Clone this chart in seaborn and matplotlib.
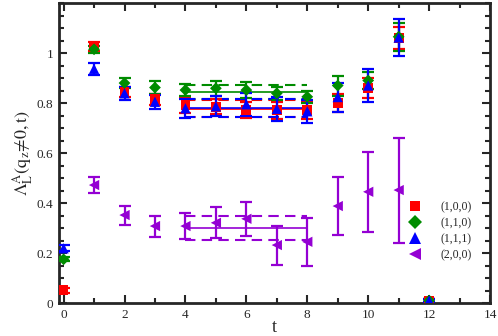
import numpy as np
import pandas as pd
import matplotlib
matplotlib.use("Agg")
import matplotlib.pyplot as plt
import seaborn as sns
from matplotlib.ticker import MultipleLocator

t = [0, 1, 2, 3, 4, 5, 6, 7, 8, 9, 10, 11, 12]
labels = ["(1,0,0)", "(1,1,0)", "(1,1,1)", "(2,0,0)"]

val_100 = [0.052, 1.025, 0.845, 0.815, 0.792, 0.785, 0.772, 0.772, 0.772, 0.800, 0.860, 1.060, 0.010]
err_100 = [0.010, 0.018, 0.020, 0.022, 0.030, 0.030, 0.032, 0.034, 0.036, 0.035, 0.040, 0.045, 0.005]
val_110 = [0.175, 1.015, 0.880, 0.862, 0.852, 0.859, 0.852, 0.839, 0.825, 0.870, 0.890, 1.065, 0.010]
err_110 = [0.008, 0.015, 0.020, 0.025, 0.025, 0.030, 0.033, 0.025, 0.025, 0.040, 0.035, 0.055, 0.005]
val_111 = [0.219, 0.937, 0.839, 0.805, 0.779, 0.787, 0.795, 0.777, 0.767, 0.824, 0.870, 1.062, 0.010]
err_111 = [0.012, 0.025, 0.026, 0.028, 0.038, 0.040, 0.045, 0.047, 0.046, 0.058, 0.065, 0.075, 0.005]
t_200 = [1, 2, 3, 4, 5, 6, 7, 8, 9, 10, 11]
val_200 = [0.472, 0.352, 0.308, 0.308, 0.321, 0.337, 0.232, 0.245, 0.388, 0.445, 0.452]
err_200 = [0.033, 0.038, 0.042, 0.052, 0.062, 0.068, 0.078, 0.095, 0.115, 0.160, 0.210]

fit_range = [4, 8]
fit_val = [0.778, 0.845, 0.781, 0.300]
fit_err = [0.033, 0.028, 0.037, 0.048]

colors = ["#ff0000", "#008c00", "#0000ff", "#9400d3"]
markers = ["s", "D", "^", "<"]
msizes = [50, 36, 55, 55]

sns.set_style("ticks")
plt.rcParams["font.family"] = ["Liberation Serif", "DejaVu Serif"]
plt.rcParams["mathtext.fontset"] = "stix"

fig = plt.figure(figsize=(4.98, 3.36), dpi=100)
ax = fig.add_axes([0.1185, 0.098, 0.8655, 0.893])

series = [
    (t, val_100, err_100),
    (t, val_110, err_110),
    (t, val_111, err_111),
    (t_200, val_200, err_200),
]

# fit bands
for i in range(4):
    c = colors[i]
    sns.lineplot(x=fit_range, y=[fit_val[i]] * 2, color=c, lw=1.2, ax=ax)
    for s in (1, -1):
        sns.lineplot(x=fit_range, y=[fit_val[i] + s * fit_err[i]] * 2, color=c,
                     lw=1.5, ax=ax, dashes=False, linestyle=(0, (5, 3)))

rows = []
for i, (x, v, e) in enumerate(series):
    ax.errorbar(x, v, yerr=e, fmt="none", ecolor=colors[i], elinewidth=1.6,
                capsize=4, capthick=1.6, zorder=3 + i)
    for xx, vv in zip(x, v):
        rows.append({"t": xx, "val": vv, "series": labels[i]})
df = pd.DataFrame(rows)

sns.scatterplot(data=df, x="t", y="val", hue="series", style="series", size="series",
                palette=dict(zip(labels, colors)),
                markers=dict(zip(labels, markers)),
                sizes=dict(zip(labels, msizes)),
                hue_order=labels, style_order=labels, size_order=labels,
                linewidth=0, ax=ax, zorder=10)

sns.move_legend(ax, loc="upper left", bbox_to_anchor=(0.775, 0.375), frameon=False,
                title=None, fontsize=8.5, handletextpad=1.1, labelspacing=0.35,
                markerscale=1.12)

ax.set_xlim(-0.15, 14)
ax.set_ylim(0, 1.2)
ax.xaxis.set_minor_locator(MultipleLocator(1))
ax.yaxis.set_minor_locator(MultipleLocator(0.05))
ax.set_yticks([0, 0.2, 0.4, 0.6, 0.8, 1.0])
ax.set_yticklabels(["0", "0.2", "0.4", "0.6", "0.8", "1"])
ax.set_xticks([0, 2, 4, 6, 8, 10, 12, 14])
ax.set_xticklabels(["0", "2", "4", "6", "8", "10", "12", "14"])
ax.tick_params(which="both", direction="in", top=True, right=True, width=1.5,
               labelsize=9.5, pad=4)
ax.tick_params(which="major", length=6)
ax.tick_params(which="minor", length=3.5)
for sp in ax.spines.values():
    sp.set_linewidth(2)

ax.set_xlabel("t", fontsize=13, labelpad=-1)
ax.set_ylabel(r"$\mathrm{\Lambda_L^A(q_z\!\neq\!0,t)}$", fontsize=13, labelpad=1)

fig.savefig("out.png", dpi=100)
